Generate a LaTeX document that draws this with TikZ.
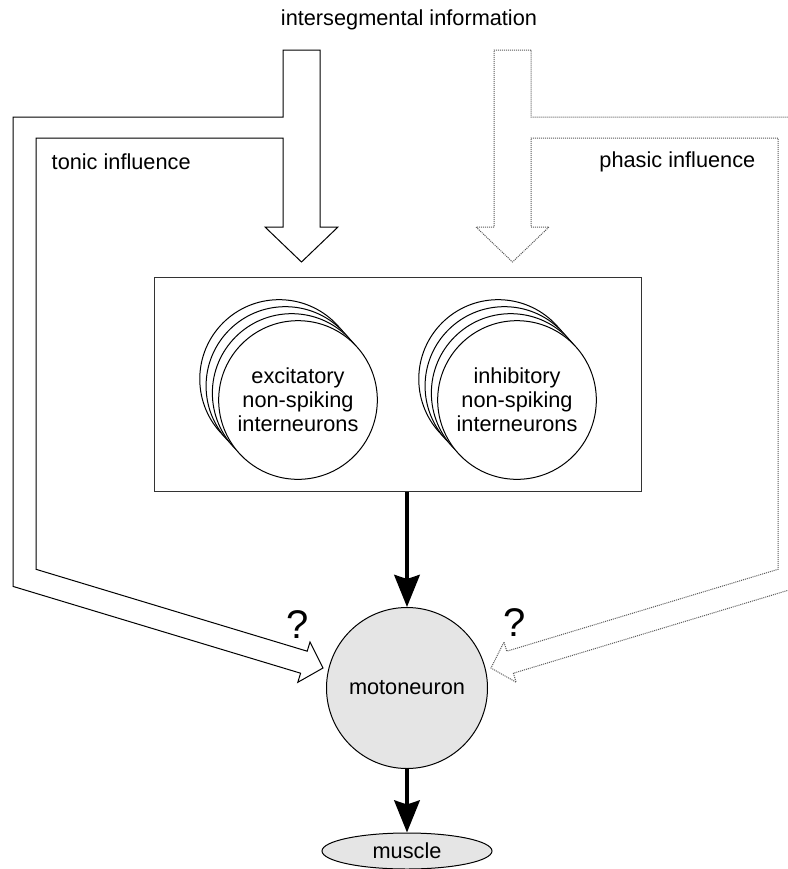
\documentclass[tikz,border=0pt]{standalone}
\usepackage{fontspec}
\setmainfont{Liberation Sans}
\usetikzlibrary{arrows.meta,positioning,shapes.geometric}

\begin{document}
\begin{tikzpicture}[x=0.75pt,y=-0.75pt,>={Stealth[length=24pt,width=19pt,inset=3pt]},
  font=\fontsize{16.3}{18}\selectfont,
  hollow/.style={draw=black,line width=0.75pt,fill=white,line join=miter},
  hollowdot/.style={draw=black!65,line width=0.75pt,dash pattern=on 0.75pt off 0.75pt,fill=white},
  cell/.style={circle,draw,line width=0.75pt,fill=white,minimum size=119pt,inner sep=0pt,align=center},
  drive/.style={->,line width=3.4pt},
  quest/.style={font=\fontsize{30}{30}\selectfont}]
\useasboundingbox (0,0) rectangle (788,869);
\clip (0,0) rectangle (788,869);
% tonic and phasic pathways
\draw[hollow] (283,50) -- (320,50) -- (320,227) -- (338,227) -- (301.5,262) -- (265,227) -- (283,227)
  -- (283,138) -- (36,138) -- (36,569.3) -- (307.2,651.2) -- (310,642) -- (323,668) -- (297.8,682.3)
  -- (300.6,673.2) -- (13,586.4) -- (13,117) -- (283,117) -- cycle;
\draw[hollowdot] (531,50) -- (494,50) -- (494,227) -- (476,227) -- (512.5,262) -- (549,227) -- (531,227)
  -- (531,138) -- (778,138) -- (778,569.3) -- (506.8,651.2) -- (504,642) -- (491,668) -- (516.2,682.3)
  -- (513.4,673.2) -- (801,586.4) -- (801,117) -- (531,117) -- cycle;
\node (info) at (409,20) {intersegmental information};
\node[anchor=west] (tonic) at (47,162) {tonic influence};
\node[anchor=east] (phasic) at (760,162) {phasic influence};
% interneuron pool
\node[draw=black!80,line width=0.75pt,minimum width=365.25pt,minimum height=160.5pt] (pool) at (397.5,384) {};
\foreach \k in {3,2,1} {
  \node[cell] at (298-6.3*\k,400-7*\k) {};
  \node[cell] at (517-6.3*\k,400-7*\k) {};
}
\node[cell] (exc) at (298,400) {excitatory\\non-spiking\\interneurons};
\node[cell] (inh) at (517,400) {inhibitory\\non-spiking\\interneurons};
% output
\node[circle,draw,line width=0.75pt,fill=black!10,minimum size=120.75pt,inner sep=0pt] (moto) at (407,688) {motoneuron};
\node[ellipse,draw,line width=0.75pt,fill=black!10,minimum width=127.5pt,minimum height=27pt,inner sep=0pt] (muscle) at (407,851) {muscle};
\node[quest] (qleft) at (298,625) {?};
\node[quest] (qright) at (515,623) {?};
\draw[drive] (pool.south -| moto.north) -- (moto.north);
\draw[drive] (moto.south) -- (muscle.north);
\end{tikzpicture}
\end{document}
